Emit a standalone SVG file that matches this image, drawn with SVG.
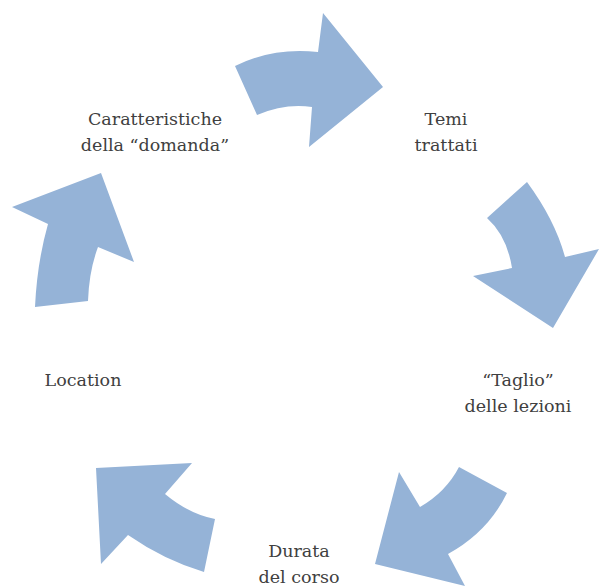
<svg xmlns="http://www.w3.org/2000/svg" width="599" height="587" viewBox="0 0 599 587">
  <style>
    .arrow { fill: #95b3d7; stroke: none; }
    .label { font-family: "DejaVu Serif", "Liberation Serif", serif; font-size: 17.5px; fill: #404040; text-anchor: middle; }
  </style>
  <rect width="599" height="587" fill="#ffffff"/>

  <!-- curved block arrows linking the stages -->
  <g id="connectors">
    <path class="arrow" d="M235,66 Q273,47 318,52 L323,13 L383,87 L309,147 L312,107 Q285,103 257,115 Z"/>
    <path class="arrow" d="M527,182 Q555,220 565,257 L599,249 L553,328 L473,276 L512,268 Q507,236 487,218 Z"/>
    <path class="arrow" d="M507,493 Q488,532 448,554 L465,586 L375,564 L399,472 L420,507 Q446,492 459,467 Z"/>
    <path class="arrow" d="M96,468 L192,463 L165,494 Q189,514 215,519 L204,572 Q164,560 128,535 L101,564 Z"/>
    <path class="arrow" d="M35,307 Q37,263 48,224 L12,207 L101,173 L134,262 L98,247 Q89,271 88,301 Z"/>
  </g>

  <g id="caratteristiche">
    <text class="label" x="155" y="125">Caratteristiche</text>
    <text class="label" x="155" y="151">della “domanda”</text>
  </g>
  <g id="temi">
    <text class="label" x="446" y="125">Temi</text>
    <text class="label" x="446" y="151">trattati</text>
  </g>
  <g id="taglio">
    <text class="label" x="518" y="386">“Taglio”</text>
    <text class="label" x="518" y="412">delle lezioni</text>
  </g>
  <g id="durata">
    <text class="label" x="299" y="557">Durata</text>
    <text class="label" x="299" y="583">del corso</text>
  </g>
  <g id="location">
    <text class="label" x="83" y="386">Location</text>
  </g>
</svg>
